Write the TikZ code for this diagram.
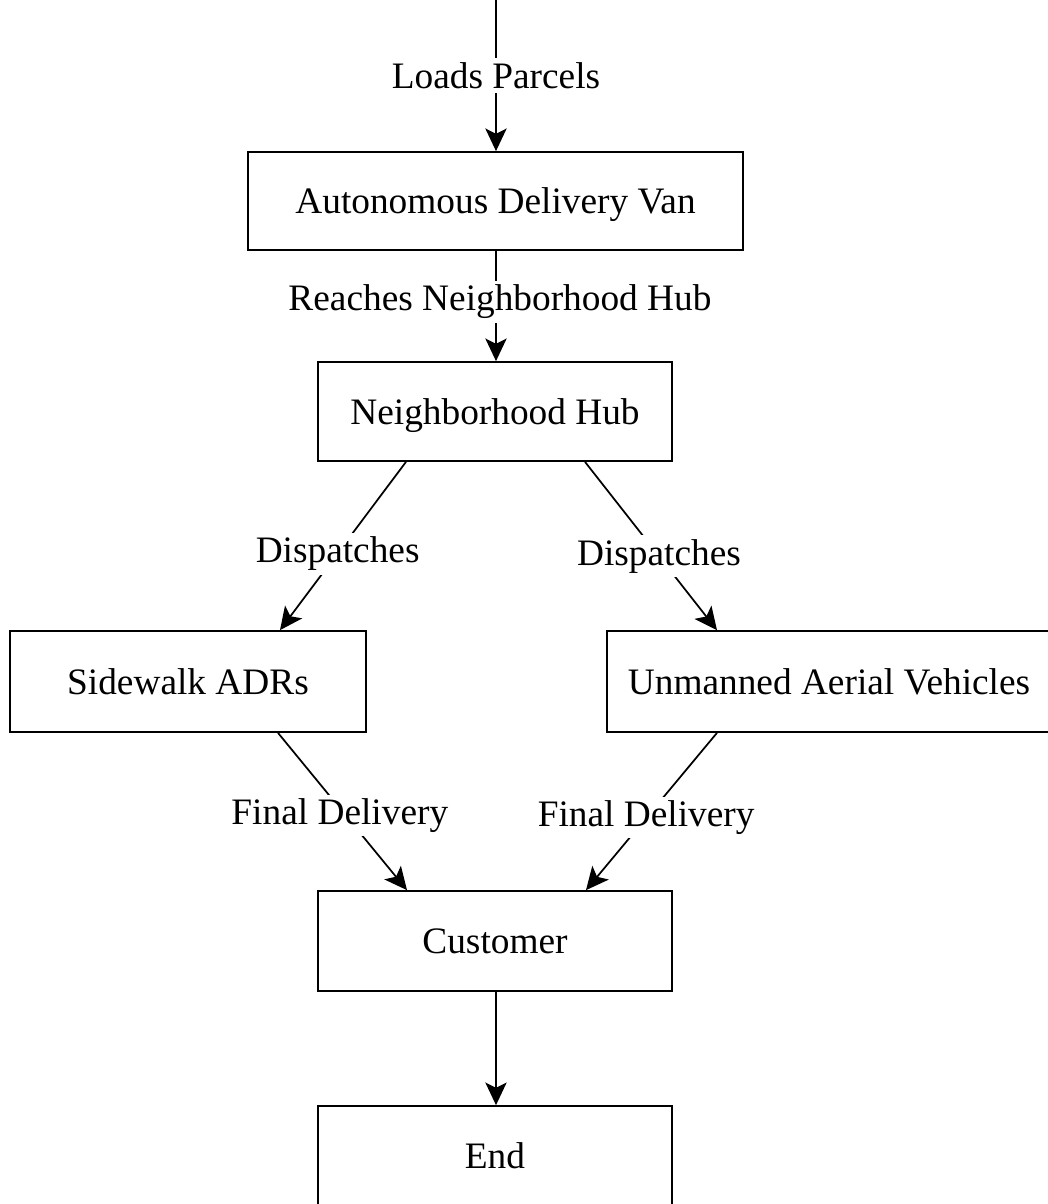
\documentclass[tikz,border=0pt]{standalone}
\usepackage{fontspec}
\setmainfont{Liberation Serif}
\usetikzlibrary{arrows.meta}
\begin{document}
\begin{tikzpicture}[x=0.75pt,y=-0.75pt,
  box/.style={draw, rectangle, line width=1.3pt, inner sep=0pt,
    text height=19pt, text depth=0pt,
    font=\fontsize{28}{34}\selectfont},
  flow/.style={line width=1.3pt, -{Stealth[length=17pt,width=16pt,inset=4pt]}},
  lbl/.style={fill=white, inner sep=3pt, font=\fontsize{28}{34}\selectfont}]
\useasboundingbox (0,0) rectangle (1047,1204);

% process boxes
\node[box, minimum width=495*0.75pt, minimum height=98*0.75pt] (van) at (495.5,201) {Autonomous Delivery Van};
\node[box, minimum width=354*0.75pt, minimum height=99*0.75pt] (hub) at (495,411.5) {Neighborhood Hub};
\node[box, minimum width=356*0.75pt, minimum height=101*0.75pt] (adr) at (188,681.5) {Sidewalk ADRs};
\node[box, minimum width=444*0.75pt, minimum height=101*0.75pt] (uav) at (829,681.5) {Unmanned Aerial Vehicles};
\node[box, minimum width=354*0.75pt, minimum height=100*0.75pt] (cust) at (495,941) {Customer};
\node[box, minimum width=354*0.75pt, minimum height=100*0.75pt] (fin) at (495,1156) {End};

\coordinate (entry) at (496,0);

% connectors
\draw[flow] (entry) -- node[lbl] {Loads Parcels} ([xshift=0.5*0.75pt]van.north);
\draw[flow] ([xshift=0.5*0.75pt]van.south) -- node[lbl, yshift=3pt, xshift=3pt] {Reaches Neighborhood Hub} ([xshift=1*0.75pt]hub.north);
\draw[flow] ([xshift=-89*0.75pt]hub.south) -- node[lbl, yshift=-6pt, xshift=-4pt] {Dispatches} ([xshift=92*0.75pt]adr.north);
\draw[flow] ([xshift=90*0.75pt]hub.south) -- node[lbl, pos=0.52, yshift=-5pt, xshift=4pt] {Dispatches} ([xshift=-112*0.75pt]uav.north);
\draw[flow] ([xshift=90*0.75pt]adr.south) -- node[lbl, yshift=-3pt, xshift=-2pt] {Final Delivery} ([xshift=-88*0.75pt]cust.north);
\draw[flow] ([xshift=-112*0.75pt]uav.south) -- node[lbl, yshift=-4.5pt, xshift=-4pt] {Final Delivery} ([xshift=91*0.75pt]cust.north);
\draw[flow] ([xshift=1*0.75pt]cust.south) -- ([xshift=1*0.75pt]fin.north);
\end{tikzpicture}
\end{document}
